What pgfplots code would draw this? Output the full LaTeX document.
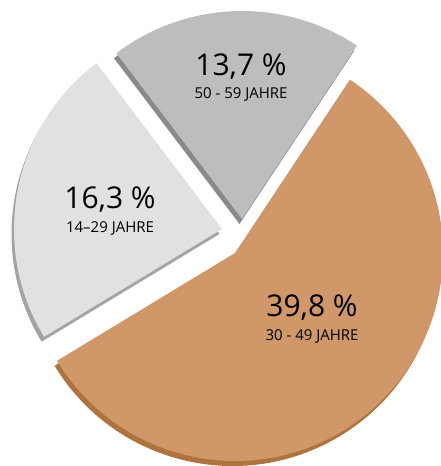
\documentclass[border=0pt]{standalone}
\usepackage{pgfplots}
\usepackage{pgfplotstable}
\pgfplotsset{compat=1.18}
\usepackage{fontspec}
\setmainfont{Open Sans}
\definecolor{orFace}{HTML}{D09868}
\definecolor{orSide}{HTML}{AE743F}
\definecolor{dgFace}{HTML}{BDBDBD}
\definecolor{dgSide}{HTML}{8A8A8A}
\definecolor{lgFace}{HTML}{E1E1E1}
\definecolor{lgSide}{HTML}{A4A4A4}
\pgfplotstableread{
value cx cy
39.8 235 213
13.7 242 247
16.3 222 237
}\piedata
\newcommand\slice[6]{%
  \fill[#6,xshift=-2.5pt,yshift=-5pt] (axis cs:#1,#2) -- ++(#3:208pt) arc[start angle=#3,end angle=#4,radius=208pt] -- cycle;
  \fill[#5] (axis cs:#1,#2) -- ++(#3:208pt) arc[start angle=#3,end angle=#4,radius=208pt] -- cycle;
}
\begin{document}
\begin{tikzpicture}
\pgfplotstablegetelem{0}{value}\of\piedata\pgfmathsetmacro\va{\pgfplotsretval}
\pgfplotstablegetelem{1}{value}\of\piedata\pgfmathsetmacro\vb{\pgfplotsretval}
\pgfplotstablegetelem{2}{value}\of\piedata\pgfmathsetmacro\vc{\pgfplotsretval}
\pgfplotstablegetelem{0}{cx}\of\piedata\edef\xa{\pgfplotsretval}
\pgfplotstablegetelem{0}{cy}\of\piedata\edef\ya{\pgfplotsretval}
\pgfplotstablegetelem{1}{cx}\of\piedata\edef\xb{\pgfplotsretval}
\pgfplotstablegetelem{1}{cy}\of\piedata\edef\yb{\pgfplotsretval}
\pgfplotstablegetelem{2}{cx}\of\piedata\edef\xc{\pgfplotsretval}
\pgfplotstablegetelem{2}{cy}\of\piedata\edef\yc{\pgfplotsretval}
\pgfmathsetmacro\tot{\va+\vb+\vc}
\pgfmathsetmacro\aA{-148.8}
\pgfmathsetmacro\aB{\aA+360*\va/\tot}
\pgfmathsetmacro\aC{\aB+360*\vb/\tot}
\pgfmathsetmacro\aD{\aC+360*\vc/\tot}
\begin{axis}[x=1pt,y=1pt,xmin=0,xmax=441,ymin=0,ymax=466,hide axis,clip=false,scale only axis]
\coordinate (ll) at (axis cs:0,0);
\coordinate (ur) at (axis cs:441,466);
\slice{\xc}{\yc}{\aC}{\aD}{lgFace}{lgSide}
\slice{\xb}{\yb}{\aB}{\aC}{dgFace}{dgSide}
\slice{\xa}{\ya}{\aA}{\aB}{orFace}{orSide}
\node[font=\fontsize{30}{34}\selectfont] at (axis cs:241,399) {13,7 \%};
\node[font=\fontsize{15}{18}\selectfont] at (axis cs:241,372) {50 - 59 JAHRE};
\node[font=\fontsize{30}{34}\selectfont] at (axis cs:110,266) {16,3 \%};
\node[font=\fontsize{15}{18}\selectfont] at (axis cs:110,238) {14–29 JAHRE};
\node[font=\fontsize{30}{34}\selectfont] at (axis cs:312,158) {39,8 \%};
\node[font=\fontsize{15}{18}\selectfont] at (axis cs:312,130) {30 - 49 JAHRE};
\end{axis}
\pgfresetboundingbox
\useasboundingbox (ll) rectangle (ur);
\end{tikzpicture}
\end{document}
